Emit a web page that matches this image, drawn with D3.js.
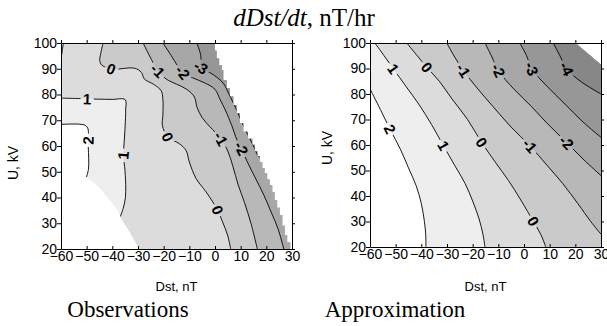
<!DOCTYPE html>
<html>
<head>
<meta charset="utf-8">
<script src="https://cdn.jsdelivr.net/npm/d3@7"></script>
<style>
  body { margin: 0; background: #fff; }
  svg { display: block; }
</style>
</head>
<body>
<div id="chart"></div>
<script>
// axis ticks
const dstTicks = [-60, -50, -40, -30, -20, -10, 0, 10, 20, 30];
const uTicks = [20, 30, 40, 50, 60, 70, 80, 90, 100];
const contourLevels = [2, 1, 0, -1, -2, -3, -4];

// ---- Observations: contour lines, [Dst, U]
const obsLine1Corner = [[-59.1, 100], [-59.5, 97], [-60, 94]];
const obsLine2 = [[-60, 68.4], [-51, 68.2], [-49.6, 67], [-49.3, 64], [-49.4, 60], [-49.2, 55], [-49.3, 51], [-50.2, 47.5]];
const obsLine1 = [[-60, 78.6], [-52, 78.4], [-46, 78.2], [-40, 78.1], [-35, 78], [-34.8, 74], [-35, 68], [-35.5, 60],
  [-35.8, 56.4], [-35.2, 52], [-34.8, 45], [-34.9, 40], [-35.8, 35.7], [-37.6, 30.8]];
const obsLine0 = [[-43.6, 100], [-44.5, 96], [-44.9, 93.2], [-44.2, 91.5], [-40.4, 89.9], [-31.3, 90.2], [-28.7, 88.6],
  [-27.5, 86], [-24, 84], [-21, 81.5], [-20.3, 78], [-20.3, 72], [-20.5, 68], [-18.4, 63.5], [-13.9, 60.9],
  [-11.3, 58.3], [-10, 53.8], [-7.4, 47.4], [-3.5, 42.2], [1, 35.1], [2.9, 30.6], [4.9, 25.4], [6.1, 20]];
const obsLineM1 = [[-28, 100], [-25.5, 95], [-22.3, 89.3], [-19, 86], [-15, 84], [-11, 82], [-8, 79], [-7, 75],
  [-5, 71], [-2, 67.5], [2.3, 62.8], [5, 58], [7, 52], [9, 45], [11.5, 38], [14, 30], [16.5, 20]];
const obsLineM2 = [[-20.3, 100], [-17, 95], [-14.5, 91], [-12.6, 88.6], [-8.7, 86.5], [-4, 84.5], [0, 82], [2, 78],
  [4, 74], [6.5, 68], [8.5, 62.5], [10.3, 59], [12.5, 54], [15.5, 48], [19, 41], [22, 34], [24.5, 28], [26.8, 20]];
const obsLineM3 = [[-7.1, 100], [-5.5, 95], [-5.5, 90.6], [-2, 88.5], [1, 86.5], [3.5, 84], [5.5, 80], [7.5, 76],
  [9.5, 71.5], [11.5, 67], [13.5, 63], [15.5, 59], [17.5, 55.5], [40, 55.5]];
// where the observations have data (ragged right edge follows the bins)
const obsRegion = [[-60, 100], [0, 100], [0, 97], [0.6, 97], [0.6, 94], [1.6, 94], [1.6, 91.5], [2.6, 91.5],
  [2.6, 89.5], [3.2, 89.5], [3.2, 85.6], [4.5, 85.6], [4.5, 82.4], [5.8, 82.4], [5.8, 79.2], [7.1, 79.2],
  [7.1, 75.9], [8.4, 75.9], [8.4, 72.7], [9.7, 72.7], [9.7, 68.8], [11, 68.8], [11, 65.5], [12.8, 65.5],
  [12.8, 62.8], [14.5, 62.8], [14.5, 60.5], [15.5, 60.5], [15.5, 58], [16.5, 58], [16.5, 56], [17.4, 56],
  [17.4, 53.8], [18.4, 53.8], [18.4, 51.5], [19.3, 51.5], [19.3, 49.5], [20.3, 49.5], [20.3, 47], [21.3, 47],
  [21.3, 44.8], [22.3, 44.8], [22.3, 42], [23.2, 42], [23.2, 39], [24.2, 39], [24.2, 36], [25.2, 36],
  [25.2, 33.2], [26.2, 33.2], [26.2, 29], [27.2, 29], [27.2, 25.4], [28.1, 25.4], [28.1, 22.5], [29.3, 22.5],
  [29.3, 20], [-29.4, 20], [-31.5, 23.5], [-33.3, 26.7], [-36, 31], [-38.4, 35.7], [-41.5, 39.5], [-44.9, 43.7],
  [-47.5, 46], [-50.1, 48], [-60, 48]];
const obsLabels = [
  { level: 2, at: [-49.4, 62.2] }, { level: 1, at: [-49.8, 78.3] }, { level: 1, at: [-35.8, 56.4] },
  { level: 0, at: [-40.4, 89.9] }, { level: 0, at: [-18.4, 63.5] }, { level: 0, at: [1, 35.1] },
  { level: -1, at: [-22.3, 89.3] }, { level: -1, at: [2.3, 62.8] },
  { level: -2, at: [-12.6, 88.6] }, { level: -2, at: [10.3, 59] }, { level: -3, at: [-5.5, 90.6] }
];

// ---- Approximation
const apxLine2 = [[-60, 82], [-56, 74], [-52.2, 66.2], [-48, 58], [-45, 51], [-42, 44], [-40, 37], [-38.8, 30], [-38.3, 25], [-38.2, 20]];
const apxLine1 = [[-58.1, 100], [-54.5, 95], [-50.9, 89.9], [-46, 83], [-41, 76], [-36, 68], [-31.4, 59.7], [-27, 52],
  [-23, 45], [-20, 38], [-17.5, 31], [-16, 25], [-15.2, 20]];
const apxLine0 = [[-45.7, 100], [-42, 95.5], [-37.9, 90.5], [-33, 85], [-28, 78], [-22, 70], [-16.5, 61], [-11, 53],
  [-6, 46], [-1, 38], [3.6, 30.1], [6.5, 25], [8.5, 20]];
const apxLineM1 = [[-30.1, 100], [-27, 94.5], [-23.6, 89.2], [-18, 82], [-12, 75], [-5, 67], [2.3, 59.7], [9, 52],
  [15, 45], [21, 37], [26, 30], [30, 25]];
const apxLineM2 = [[-15.2, 100], [-12.5, 94.5], [-10, 89.2], [-4, 82], [3, 75], [9, 68.5], [16.6, 61], [23, 54.5], [30, 48]];
const apxLineM3 = [[-1.6, 100], [1, 95], [3, 89.9], [9, 83], [16, 76], [23, 69], [30, 63]];
const apxLineM4 = [[11.4, 100], [14, 95], [16.6, 89.9], [22, 85], [30, 80]];
const apxRegion = [[-60, 100], [20, 100], [30, 91.5], [30, 20], [-60, 20]];
const apxLabels = [
  { level: 1, at: [-50.9, 89.9] }, { level: 0, at: [-37.9, 90.5] }, { level: -1, at: [-23.6, 89.2] },
  { level: -2, at: [-10, 89.2] }, { level: -3, at: [3, 89.9] }, { level: -4, at: [16.6, 89.9] },
  { level: 2, at: [-52.2, 66.2] }, { level: 1, at: [-31.4, 59.7] }, { level: 0, at: [-16.5, 61] },
  { level: -1, at: [2.3, 59.7] }, { level: -2, at: [16.6, 61] }, { level: 0, at: [3.6, 30.1] }
];

const sans = "Arial, 'Liberation Sans', Helvetica, sans-serif";
const serif = "'Times New Roman', 'Liberation Serif', Times, serif";

// grey for the band just below each level, higher values stay white
const bandFill = d3.scaleOrdinal()
  .domain(contourLevels)
  .range(['#eeeeee', '#dcdcdc', '#cacaca', '#b8b8b8', '#a7a7a7', '#979797', '#878787']);

const svg = d3.select('#chart').append('svg')
  .attr('width', 607)
  .attr('height', 326);
const defs = svg.append('defs');

function drawPanel(opt) {
  const x = d3.scaleLinear().domain([-60, 30]).range([0, opt.width]);
  const y = d3.scaleLinear().domain([20, 100]).range([opt.height, 0]);
  const g = svg.append('g').attr('transform', `translate(${opt.left},${opt.top})`);
  const line = d3.line().x(d => x(d[0])).y(d => y(d[1])).curve(d3.curveCatmullRom.alpha(0.5));
  const poly = d3.line().x(d => x(d[0])).y(d => y(d[1]));

  defs.append('clipPath').attr('id', opt.id + '-area')
    .append('path').attr('d', poly(opt.region) + 'Z');

  // filled bands: paint the low side of every contour, highest level first
  const BIG = 1000;
  const fills = g.append('g').attr('clip-path', `url(#${opt.id}-area)`);
  opt.contours.filter(c => c.fill !== false)
    .sort((a, b) => b.level - a.level)
    .forEach(c => {
      const first = c.pts[0], last = c.pts[c.pts.length - 1];
      const tail = [[last[0], -BIG], [BIG, -BIG], [BIG, BIG], [first[0], BIG]]
        .map(p => `L${x(p[0])},${y(p[1])}`).join('');
      fills.append('path')
        .attr('d', line(c.pts) + tail + 'Z')
        .attr('fill', bandFill(c.level));
    });

  // labels sit on the lines, turned with them
  const labelG = g.append('g');
  const mask = defs.append('mask').attr('id', opt.id + '-gaps')
    .attr('maskUnits', 'userSpaceOnUse')
    .attr('x', -20).attr('y', -20).attr('width', opt.width + 40).attr('height', opt.height + 40);
  mask.append('rect').attr('x', -20).attr('y', -20)
    .attr('width', opt.width + 40).attr('height', opt.height + 40).attr('fill', '#fff');

  opt.labels.forEach(lb => {
    const px = x(lb.at[0]), py = y(lb.at[1]);
    let best = null, bestD = Infinity;
    opt.contours.filter(c => c.level === lb.level).forEach(c => {
      for (let i = 0; i < c.pts.length - 1; i++) {
        const ax = x(c.pts[i][0]), ay = y(c.pts[i][1]);
        const bx = x(c.pts[i + 1][0]), by = y(c.pts[i + 1][1]);
        const d = Math.hypot((ax + bx) / 2 - px, (ay + by) / 2 - py);
        if (d < bestD) { bestD = d; best = [bx - ax, by - ay]; }
      }
    });
    let ang = Math.atan2(best[1], best[0]) * 180 / Math.PI;
    if (ang > 90) ang -= 180;
    if (ang < -90) ang += 180;
    const t = labelG.append('text')
      .attr('transform', `translate(${px},${py}) rotate(${ang})`)
      .attr('text-anchor', 'middle')
      .attr('dy', '0.36em')
      .attr('font-family', sans)
      .attr('font-weight', 'bold')
      .attr('font-size', 15)
      .text(lb.level);
    const len = t.node().getComputedTextLength();
    mask.append('rect')
      .attr('transform', `translate(${px},${py}) rotate(${ang})`)
      .attr('x', -len / 2 - 2.5).attr('y', -6.5)
      .attr('width', len + 5).attr('height', 13)
      .attr('fill', '#000');
  });

  g.insert('g', () => labelG.node())
    .attr('clip-path', `url(#${opt.id}-area)`)
    .append('g')
    .attr('mask', `url(#${opt.id}-gaps)`)
    .selectAll('path')
    .data(opt.contours)
    .join('path')
    .attr('d', c => line(c.pts))
    .attr('fill', 'none')
    .attr('stroke', '#000')
    .attr('stroke-width', 0.9);

  // frame with ticks
  const styleAxis = sel => sel.attr('font-family', sans).attr('font-size', 14)
    .call(s => s.selectAll('path, line').attr('stroke', '#000'));
  g.append('g').attr('transform', `translate(0,${opt.height})`)
    .call(d3.axisBottom(x).tickValues(dstTicks).tickSizeInner(-3).tickSizeOuter(0).tickPadding(2))
    .call(styleAxis);
  g.append('g')
    .call(d3.axisTop(x).tickValues(dstTicks).tickSizeInner(3).tickSizeOuter(0).tickFormat(''))
    .call(styleAxis);
  g.append('g')
    .call(d3.axisLeft(y).tickValues(uTicks).tickSizeInner(4).tickSizeOuter(0).tickPadding(0))
    .call(styleAxis);
  g.append('g').attr('transform', `translate(${opt.width},0)`)
    .call(d3.axisRight(y).tickValues(uTicks).tickSizeInner(3).tickSizeOuter(0).tickFormat(''))
    .call(styleAxis);

  g.append('text')
    .attr('x', opt.width / 2).attr('y', 248)
    .attr('text-anchor', 'middle')
    .attr('font-family', sans).attr('font-size', 13)
    .text('Dst, nT');
  g.append('text')
    .attr('transform', `translate(${opt.uLabelX},${opt.uLabelY}) rotate(-90)`)
    .attr('text-anchor', 'middle')
    .attr('font-family', sans).attr('font-size', 14)
    .text('U, kV');
  g.append('text')
    .attr('x', opt.captionX).attr('y', 274)
    .attr('text-anchor', 'middle')
    .attr('font-family', serif).attr('font-size', 23)
    .text(opt.caption);
}

drawPanel({
  id: 'obs', left: 61, top: 43, width: 231, height: 206,
  region: obsRegion,
  contours: [
    { level: 1, pts: obsLine1Corner, fill: false },
    { level: 2, pts: obsLine2 }, { level: 1, pts: obsLine1 }, { level: 0, pts: obsLine0 },
    { level: -1, pts: obsLineM1 }, { level: -2, pts: obsLineM2 }, { level: -3, pts: obsLineM3 }
  ],
  labels: obsLabels,
  uLabelX: -43, uLabelY: 120,
  captionX: 67, caption: 'Observations'
});

drawPanel({
  id: 'apx', left: 370, top: 43, width: 231, height: 204,
  region: apxRegion,
  contours: [
    { level: 2, pts: apxLine2 }, { level: 1, pts: apxLine1 }, { level: 0, pts: apxLine0 },
    { level: -1, pts: apxLineM1 }, { level: -2, pts: apxLineM2 }, { level: -3, pts: apxLineM3 },
    { level: -4, pts: apxLineM4 }
  ],
  labels: apxLabels,
  uLabelX: -38, uLabelY: 105,
  captionX: 25, caption: 'Approximation'
});

const title = svg.append('text')
  .attr('x', 304).attr('y', 26)
  .attr('text-anchor', 'middle')
  .attr('font-family', serif).attr('font-size', 25);
title.append('tspan').attr('font-style', 'italic').text('dDst/dt');
title.append('tspan').text(', nT/hr');
</script>
</body>
</html>
